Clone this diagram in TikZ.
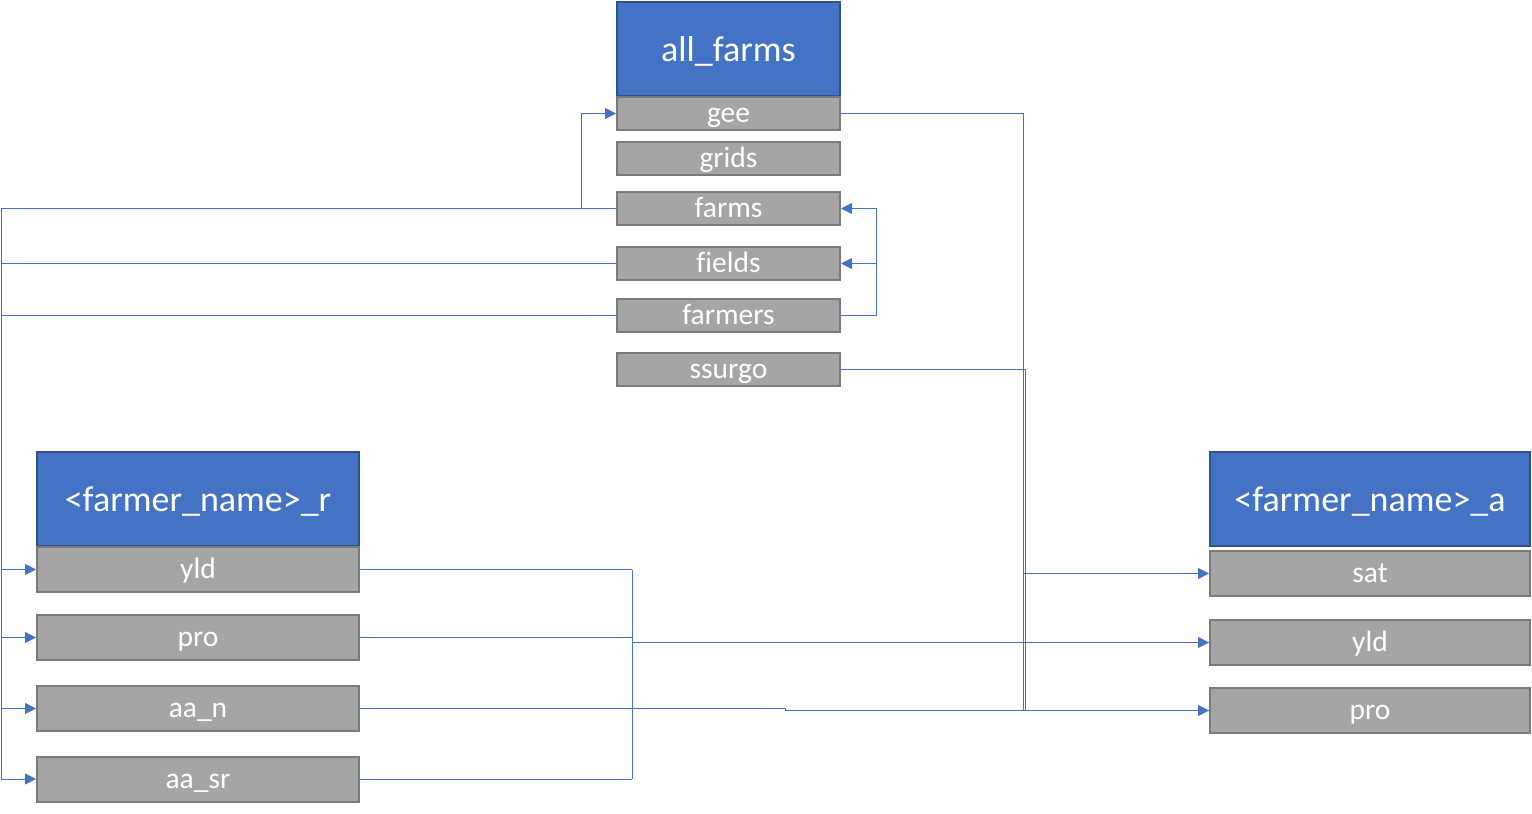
\documentclass[tikz,border=0pt]{standalone}
\usepackage{fontspec}
\setmainfont[Ligatures=NoCommon]{Carlito}
\usetikzlibrary{arrows.meta}

\definecolor{hdrblue}{HTML}{4472C4}
\definecolor{hdredge}{HTML}{2F528F}
\definecolor{rowgray}{HTML}{A5A5A5}
\definecolor{rowedge}{HTML}{7A7A7A}

\tikzset{
    tblhead/.style={
        draw=hdredge,
        line width=1.5pt,
        fill=hdrblue,
        text=white,
        inner sep=0pt,
        font=\fontsize{36}{40}\selectfont,
        text height=27pt,
        text depth=1.6pt
    },
    tblrow/.style={
        draw=rowedge,
        line width=2pt,
        fill=rowgray,
        text=white,
        inner sep=0pt,
        font=\fontsize{29.5}{33}\selectfont,
        text height=20pt,
        text depth=1.5pt
    },
    link/.style={draw=hdrblue, line width=1pt},
    linkto/.style={link, -{Triangle[length=11pt,width=11pt]}}
}

\begin{document}
\begin{tikzpicture}[x=1pt, y=-1pt]
            \useasboundingbox (0,0) rectangle (1532,814);

            % all_farms
            \node[
                tblhead,
                minimum width=223pt,
                minimum height=94pt,
                name=allfarms
            ] at (728.5,49) {all\_farms};

            \node[tblrow, minimum width=223pt, minimum height=33pt, name=gee] at (728.5,113.5) {gee};
            \node[tblrow, minimum width=223pt, minimum height=33pt, name=grids] at (728.5,158) {grids};
            \node[tblrow, minimum width=223pt, minimum height=33pt, name=farms] at (728.5,208.5) {farms};
            \node[tblrow, minimum width=223pt, minimum height=33pt, name=fields] at (728.5,263.5) {fields};
            \node[tblrow, minimum width=223pt, minimum height=33pt, name=farmers] at (728.5,315.5) {farmers};
            \node[tblrow, minimum width=223pt, minimum height=33pt, name=ssurgo] at (728.5,369.5) {ssurgo};

            % <farmer_name>_r
            \node[
                tblhead,
                minimum width=322pt,
                minimum height=94pt,
                name=rawhead
            ] at (198,499) {<farmer\_name>\_r};

            \node[tblrow, minimum width=322pt, minimum height=45pt, name=yldr] at (198,569.5) {yld};
            \node[tblrow, minimum width=322pt, minimum height=45pt, name=pror] at (198,637.5) {pro};
            \node[tblrow, minimum width=322pt, minimum height=45pt, name=aanr] at (198,708.5) {aa\_n};
            \node[tblrow, minimum width=322pt, minimum height=45pt, name=aasrr] at (198,779) {aa\_sr};

            % <farmer_name>_a
            \node[
                tblhead,
                minimum width=320pt,
                minimum height=94pt,
                name=agghead
            ] at (1370,499) {<farmer\_name>\_a};

            \node[tblrow, minimum width=320pt, minimum height=45pt, name=sata] at (1370,573.5) {sat};
            \node[tblrow, minimum width=320pt, minimum height=45pt, name=ylda] at (1370,642.5) {yld};
            \node[tblrow, minimum width=320pt, minimum height=45pt, name=proa] at (1370,710.5) {pro};

            % bus points
            \coordinate (lbus) at (1,208.5);
            \coordinate (gbus) at (581,208.5);
            \coordinate (fbus) at (876,315.5);
            \coordinate (ebus) at (1023,113.5);
            \coordinate (sbus) at (1025,369.5);
            \coordinate (mbus) at (632,569.5);
            \coordinate (jog) at (785,708.5);

            % farms -> gee
            \draw[linkto] (farms.west) -- (gbus) |- (gee.west);

            % farms, fields, farmers -> raw rows
            \draw[link] (farms.west) -- (lbus) -- (lbus |- aasrr);
            \draw[link] (fields.west) -- (fields.west -| lbus);
            \draw[link] (farmers.west) -- (farmers.west -| lbus);
            \foreach \r in {yldr,pror,aanr,aasrr}
                \draw[linkto] (lbus |- \r.west) -- (\r.west);

            % farmers -> farms, fields
            \draw[linkto] (farmers.east) -- (fbus) |- (farms.east);
            \draw[linkto] (fbus |- fields.east) -- (fields.east);

            % gee, ssurgo -> agg rows
            \draw[link] (gee.east) -- (ebus) -- (ebus |- proa);
            \draw[link] (ssurgo.east) -- (sbus) -- (sbus |- proa);
            \foreach \r in {sata,ylda,proa}
                \draw[linkto] (ebus |- \r.west) -- (\r.west);

            % raw rows -> agg rows
            \foreach \r in {yldr,pror,aanr,aasrr}
                \draw[link] (\r.east) -- (\r.east -| mbus);
            \draw[link] (mbus) -- (mbus |- aasrr);
            \draw[link] (mbus |- ylda) -- (ylda.west);
            \draw[link] (mbus |- aanr) -- (jog) |- (proa.west);
        \end{tikzpicture}
\end{document}
